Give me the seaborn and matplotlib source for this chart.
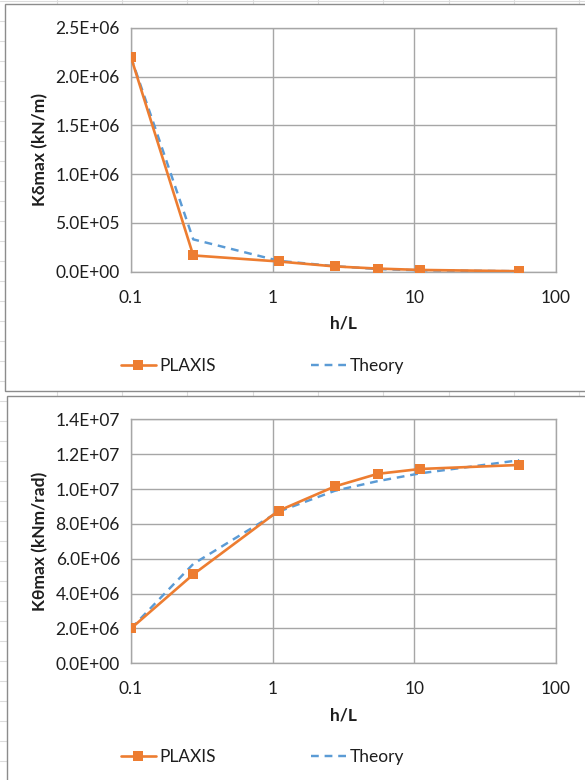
#!/usr/bin/env python3
#===============================================================================
# plot stiffness vs h/L (PLAXIS vs theory)
#===============================================================================

# Imports ======================================================================

import matplotlib
matplotlib.use('Agg')
import matplotlib.pyplot as plt
from matplotlib.lines import Line2D
from matplotlib.patches import Rectangle
from matplotlib.ticker import FuncFormatter, FixedLocator, NullLocator
import pandas as pd
import seaborn as sns


# Data =========================================================================

h_over_l = [0.1, 0.275, 1.1, 2.75, 5.5, 11, 55]

k_delta_plaxis = [2.2e6, 1.65e5, 1.03e5, 5.2e4, 3.0e4, 1.6e4, 3.0e3]
k_delta_theory = [2.2e6, 3.3e5, 1.1e5, 5.5e4, 2.5e4, 1.2e4, 3.0e3]

k_theta_plaxis = [2.0e6, 5.1e6, 8.75e6, 10.15e6, 10.87e6, 11.15e6, 11.38e6]
k_theta_theory = [2.0e6, 5.7e6, 8.7e6, 9.9e6, 10.45e6, 10.9e6, 11.65e6]

series_labels = ['PLAXIS', 'Theory']
x_label = 'h/L'
y_labels = ['K\u03b4max (kN/m)', 'K\u03b8max (kNm/rad)']
y_limits = [(0, 2.5e6), (0, 1.4e7)]
y_steps = [5e5, 2e6]
x_ticks = [0.1, 1, 10, 100]


# Style ========================================================================

W, H = 585, 780
ORANGE = '#ED7D31'
BLUE = '#5B9BD5'
GRID = '#A6A6A6'
TEXT = '#1E1E1E'
FONT = ['Lato', 'DejaVu Sans']


def fx(px):
    return px / W


def fy(py):
    return 1 - py / H


def draw_background(fig):
    # faint spreadsheet cells behind the chart frames
    x = 56.7
    while x < W:
        fig.add_artist(Line2D([fx(x), fx(x)], [0, 1], color='#DCDCDC',
                              lw=0.8, zorder=0))
        x += 65.3
    y = 0.7
    while y < H:
        fig.add_artist(Line2D([0, 1], [fy(y), fy(y)], color='#DCDCDC',
                              lw=0.8, zorder=0))
        y += 20
    # chart frames
    fig.add_artist(Rectangle((fx(5), fy(390.7)), 1.2, (390.7 - 4) / H,
                             transform=fig.transFigure, facecolor='white',
                             edgecolor='#8C8C8C', lw=1.0, zorder=1))
    fig.add_artist(Rectangle((fx(7), -0.2), 1.2, 0.2 + (H - 396) / H,
                             transform=fig.transFigure, facecolor='white',
                             edgecolor='#8C8C8C', lw=1.0, zorder=1))


def style_axes(ax, ylim, ystep, ylabel):
    ax.set_xscale('log')
    ax.set_xlim(0.1, 100)
    ax.set_ylim(*ylim)
    ax.xaxis.set_major_locator(FixedLocator(x_ticks))
    ax.xaxis.set_minor_locator(NullLocator())
    ax.xaxis.set_major_formatter(FuncFormatter(lambda v, p: f'{v:g}'))
    n = int(round(ylim[1] / ystep))
    ax.yaxis.set_major_locator(FixedLocator([i * ystep for i in range(n + 1)]))
    ax.yaxis.set_major_formatter(FuncFormatter(lambda v, p: f'{v:.1E}'))
    ax.grid(True, color=GRID, lw=1.0)
    ax.set_axisbelow(True)
    for s in ax.spines.values():
        s.set_color(GRID)
        s.set_linewidth(1.0)
    ax.tick_params(axis='both', which='major', length=4, width=1.0,
                   color=GRID, labelsize=12.5, labelcolor=TEXT, pad=4)
    ax.tick_params(axis='x', pad=9)
    for t in ax.get_xticklabels() + ax.get_yticklabels():
        t.set_family(FONT)
    ax.set_xlabel(x_label, fontsize=12.5, fontweight='bold', color=TEXT,
                  family=FONT, labelpad=7)
    ax.set_ylabel(ylabel, fontsize=12.5, fontweight='bold', color=TEXT,
                  family=FONT, labelpad=5)


def plot_pair(ax, plaxis, theory):
    df = pd.DataFrame({'h/L': h_over_l, 'PLAXIS': plaxis, 'Theory': theory})
    sns.lineplot(data=df, x='h/L', y='Theory', ax=ax, color=BLUE, lw=1.75,
                 dashes=(3.2, 2.4), label=series_labels[1], zorder=3)
    sns.lineplot(data=df, x='h/L', y='PLAXIS', ax=ax, color=ORANGE, lw=1.9,
                 marker='s', markersize=6.5, markeredgewidth=0,
                 label=series_labels[0], zorder=4)


def add_legend(ax, fig, y_px):
    handles, labels = ax.get_legend_handles_labels()
    order = [labels.index(s) for s in series_labels]
    leg = ax.legend([handles[i] for i in order], [labels[i] for i in order],
                    loc='center left', bbox_to_anchor=(fx(121), fy(y_px)),
                    bbox_transform=fig.transFigure, ncol=2, frameon=False,
                    borderaxespad=0, borderpad=0, handlelength=2.0,
                    handletextpad=0.2, columnspacing=5.5,
                    prop={'family': FONT, 'size': 12.5})
    for t in leg.get_texts():
        t.set_color(TEXT)


# Main =========================================================================

def main():
    sns.set_theme(style='white')
    plt.rcParams['font.family'] = FONT

    fig = plt.figure(figsize=(W / 100, H / 100), dpi=100)
    draw_background(fig)

    ax_top = fig.add_axes([fx(131), fy(271.5), fx(556) - fx(131),
                           (271.5 - 28) / H])
    ax_bot = fig.add_axes([fx(131), fy(663.3), fx(556) - fx(131),
                           (663.3 - 419.3) / H])
    for ax in (ax_top, ax_bot):
        ax.set_zorder(2)

    plot_pair(ax_top, k_delta_plaxis, k_delta_theory)
    plot_pair(ax_bot, k_theta_plaxis, k_theta_theory)

    style_axes(ax_top, y_limits[0], y_steps[0], y_labels[0])
    style_axes(ax_bot, y_limits[1], y_steps[1], y_labels[1])

    add_legend(ax_top, fig, 366)
    add_legend(ax_bot, fig, 757)

    fig.savefig('out.png', dpi=100)


# Execute ======================================================================

if __name__ == '__main__':
    main()
